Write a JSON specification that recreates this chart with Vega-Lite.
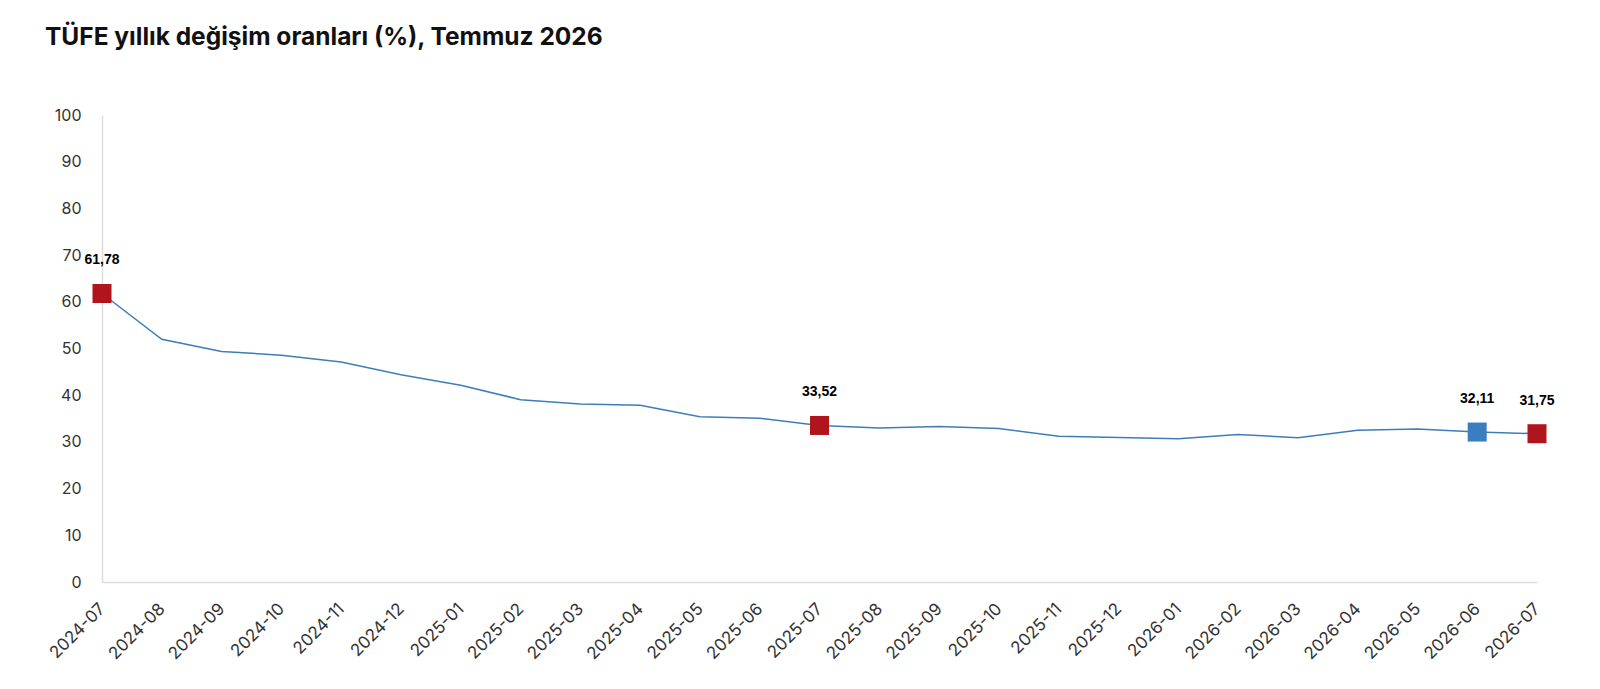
{
  "$schema": "https://vega.github.io/schema/vega-lite/v6.json",
  "autosize": {"type": "none"},
  "width": 1435,
  "height": 467,
  "padding": {"left": 102, "top": 115, "right": 63, "bottom": 107},
  "background": "white",
  "title": {
    "text": "TÜFE yıllık değişim oranları (%), Temmuz 2026",
    "anchor": "start",
    "frame": "group",
    "dx": -57,
    "offset": 57,
    "font": "Inter",
    "fontSize": 24.5,
    "fontWeight": "bold",
    "color": "#111111"
  },
  "config": {
    "view": {"stroke": null},
    "locale": {
      "number": {"decimal": ",", "thousands": ".", "grouping": [3], "currency": ["", " TL"]}
    }
  },
  "data": {
    "values": [
      {"ay": "2024-07", "oran": 61.78, "isaret": "yıllık"},
      {"ay": "2024-08", "oran": 51.97},
      {"ay": "2024-09", "oran": 49.38},
      {"ay": "2024-10", "oran": 48.58},
      {"ay": "2024-11", "oran": 47.09},
      {"ay": "2024-12", "oran": 44.38},
      {"ay": "2025-01", "oran": 42.12},
      {"ay": "2025-02", "oran": 39.05},
      {"ay": "2025-03", "oran": 38.10},
      {"ay": "2025-04", "oran": 37.86},
      {"ay": "2025-05", "oran": 35.41},
      {"ay": "2025-06", "oran": 35.05},
      {"ay": "2025-07", "oran": 33.52, "isaret": "yıllık"},
      {"ay": "2025-08", "oran": 32.95},
      {"ay": "2025-09", "oran": 33.29},
      {"ay": "2025-10", "oran": 32.87},
      {"ay": "2025-11", "oran": 31.20},
      {"ay": "2025-12", "oran": 30.95},
      {"ay": "2026-01", "oran": 30.70},
      {"ay": "2026-02", "oran": 31.60},
      {"ay": "2026-03", "oran": 30.90},
      {"ay": "2026-04", "oran": 32.50},
      {"ay": "2026-05", "oran": 32.75},
      {"ay": "2026-06", "oran": 32.11, "isaret": "aylık"},
      {"ay": "2026-07", "oran": 31.75, "isaret": "yıllık"}
    ]
  },
  "encoding": {
    "x": {
      "field": "ay",
      "type": "ordinal",
      "scale": {"type": "point", "padding": 0},
      "axis": {
        "title": null,
        "labelAngle": -45,
        "labelAlign": "right",
        "labelBaseline": "middle",
        "labelPadding": 24,
        "labelFont": "Inter",
        "labelFontSize": 17,
        "labelColor": "#333333",
        "ticks": false,
        "domainColor": "#dddddd",
        "domainWidth": 1.5,
        "grid": false
      }
    },
    "y": {
      "field": "oran",
      "type": "quantitative",
      "scale": {"domain": [0, 100], "nice": false},
      "axis": {
        "title": null,
        "values": [0, 10, 20, 30, 40, 50, 60, 70, 80, 90, 100],
        "labelFont": "Inter",
        "labelFontSize": 16,
        "labelColor": "#333333",
        "labelPadding": 21,
        "ticks": false,
        "grid": false,
        "domainColor": "#dddddd",
        "domainWidth": 1.5
      }
    }
  },
  "layer": [
    {
      "mark": {"type": "line", "color": "#3D7DBA", "strokeWidth": 1.5}
    },
    {
      "transform": [{"filter": "datum.isaret != null"}],
      "mark": {"type": "square", "size": 361, "opacity": 1, "filled": true},
      "encoding": {
        "color": {
          "field": "isaret",
          "type": "nominal",
          "scale": {"domain": ["yıllık", "aylık"], "range": ["#B0141D", "#3A7EC0"]},
          "legend": null
        }
      }
    },
    {
      "transform": [{"filter": "datum.isaret != null"}],
      "mark": {
        "type": "text",
        "dy": -33,
        "font": "Liberation Sans",
        "fontSize": 14,
        "fontWeight": "bold",
        "color": "#000000"
      },
      "encoding": {
        "text": {"field": "oran", "type": "quantitative", "format": ".2f"}
      }
    }
  ]
}
